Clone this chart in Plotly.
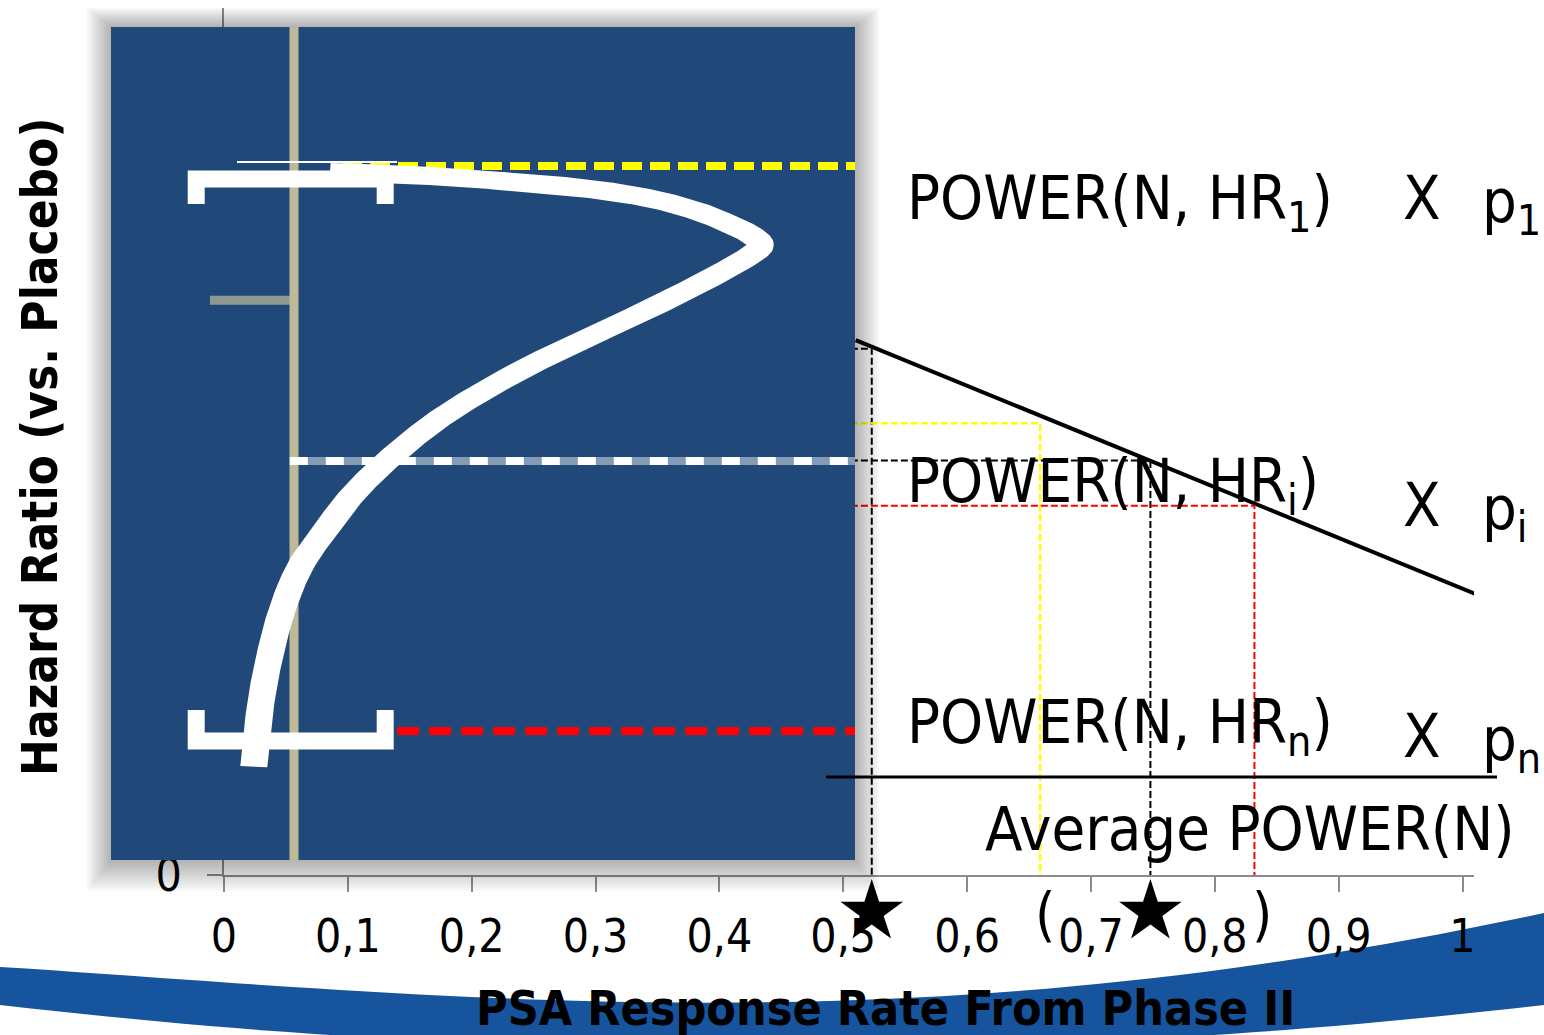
import numpy as np
import plotly.graph_objects as go

W, H = 1544, 1035
FONT = "DejaVu Sans Condensed, DejaVu Sans, sans-serif"

# ---------------------------------------------------------------- main chart
x_ticks = [0, 0.1, 0.2, 0.3, 0.4, 0.5, 0.6, 0.7, 0.8, 0.9, 1.0]
x_tick_labels = ["0", "0,1", "0,2", "0,3", "0,4", "0,5", "0,6", "0,7", "0,8", "0,9", "1"]

# hazard ratio as a function of the phase II PSA response rate
line_psa = [0.51, 1.0125]
line_hr = [0.617, 0.323]

# reading guides: hazard-ratio level -> PSA response rate
guide_level = [0.607, 0.521, 0.478, 0.426]
guide_rate = [0.523, 0.659, 0.748, 0.832]
guide_color = ["#000000", "#FFFF00", "#000000", "#FF0000"]
guide_width = [2, 2.5, 2, 2]

# response rates flagged on the axis
star_rate = [0.523, 0.748]

# ------------------------------------------------- inset: hazard ratio density
# density (horizontal) against hazard-ratio position (vertical)
dens = [0.060, 0.143, 0.255, 0.365, 0.477, 0.588, 0.672, 0.727, 0.763, 0.777,
        0.763, 0.698, 0.588, 0.477, 0.365, 0.255, 0.172, 0.102, 0.052, 0.010,
        -0.020, -0.042, -0.057, -0.067]
hr_pos = [0.826, 0.824, 0.820, 0.814, 0.807, 0.795, 0.779, 0.763, 0.750, 0.739,
          0.727, 0.700, 0.660, 0.623, 0.583, 0.536, 0.490, 0.442, 0.396, 0.352,
          0.300, 0.240, 0.180, 0.112]

# brackets at both ends of the distribution
cap_dens = [-0.163, -0.163, 0.152, 0.152]
cap_top = [0.7875, 0.8175, 0.8175, 0.7875]
cap_bottom = [0.180, 0.1429, 0.1429, 0.180]

# hazard-ratio levels marked inside the inset
inset_level = [0.833, 0.479, 0.155]
inset_start = [0.08, -0.007, 0.172]
inset_color = ["#FFFF00", "#FFFFFF", "#FF0000"]
inset_dash = ["20px,8px", "18px,18px", "22px,10px"]

beige_tick_level = 0.672
beige_tick_start = -0.14

# ------------------------------------------------------------------ geometry
def fx(px):
    return px / W


def fy(py):
    return 1 - py / H


# main axes: plot area in pixels
MX0, MX1, MY0, MY1 = 224, 1474, 875, 8
MAIN_UNIT_X = 1238.5
main_xrange = [0, (MX1 - MX0) / MAIN_UNIT_X]

# inset axes: origin (density 0, level 0) and pixels per unit
IO_X, IO_Y, ISX, ISY = 294, 860, 600.0, 833.0
PANEL = (111, 27, 855, 860)          # blue panel box, px
IDOM = (80, 0, 890, 900)              # inset subplot box incl. shadow, px
ins_xrange = [(IDOM[0] - IO_X) / ISX, (IDOM[2] - IO_X) / ISX]
ins_yrange = [(IO_Y - IDOM[3]) / ISY, (IO_Y - IDOM[1]) / ISY]


def to_d(px):
    return (np.asarray(px, float) - IO_X) / ISX


def to_h(py):
    return (IO_Y - np.asarray(py, float)) / ISY


def rect(x0, y0, x1, y1):
    xs = to_d([x0, x1, x1, x0, x0])
    ys = to_h([y0, y0, y1, y1, y0])
    return xs, ys


def catmull(px, py, n=16):
    p = np.column_stack([px, py])
    p = np.vstack([p[0], p, p[-1]])
    out = []
    for i in range(1, len(p) - 2):
        p0, p1, p2, p3 = p[i - 1], p[i], p[i + 1], p[i + 2]
        for t in np.linspace(0, 1, n, endpoint=False):
            t2, t3 = t * t, t * t * t
            out.append(0.5 * ((2 * p1) + (-p0 + p2) * t +
                              (2 * p0 - 5 * p1 + 4 * p2 - p3) * t2 +
                              (-p0 + 3 * p1 - 3 * p2 + p3) * t3))
    out.append(p[-2])
    return np.array(out)


# thick density stroke as a filled ribbon (elliptical pen)
cpx = IO_X + np.array(dens) * ISX
cpy = IO_Y - np.array(hr_pos) * ISY
c = catmull(cpx, cpy)
tan = np.gradient(c, axis=0)
nrm = np.column_stack([-tan[:, 1], tan[:, 0]])
nrm /= np.linalg.norm(nrm, axis=1)[:, None]
A, B = 13.5, 9.0
den = np.sqrt(A * A * nrm[:, 0] ** 2 + B * B * nrm[:, 1] ** 2)
off = np.column_stack([A * A * nrm[:, 0], B * B * nrm[:, 1]]) / den[:, None]
left, right = c + off, c - off
ribbon = np.vstack([left, right[::-1], left[:1]])

fig = go.Figure()

# ---- main chart traces
fig.add_trace(go.Scatter(x=line_psa, y=line_hr, mode="lines",
                         line=dict(color="black", width=4),
                         xaxis="x", yaxis="y", hoverinfo="skip"))
for lv, rt, col, wd in zip(guide_level, guide_rate, guide_color, guide_width):
    fig.add_trace(go.Scatter(x=[0.49, rt, rt], y=[lv, lv, 0], mode="lines",
                             line=dict(color=col, width=wd, dash="7px,3px"),
                             xaxis="x", yaxis="y", hoverinfo="skip"))

# ---- inset traces
for k in range(10, 0, -1):
    e = k * 2.4
    xs, ys = rect(PANEL[0] - e, PANEL[1] - e + k * 0.5,
                  PANEL[2] + e, PANEL[3] + e + k * 0.7)
    fig.add_trace(go.Scatter(x=xs, y=ys, mode="lines", fill="toself",
                             fillcolor="rgba(0,0,0,0.032)", line=dict(width=0),
                             xaxis="x2", yaxis="y2", hoverinfo="skip"))
xs, ys = rect(*PANEL)
fig.add_trace(go.Scatter(x=xs, y=ys, mode="lines", fill="toself",
                         fillcolor="#20497A", line=dict(width=0, color="#20497A"),
                         xaxis="x2", yaxis="y2", hoverinfo="skip"))
# inset axis and its tick
fig.add_trace(go.Scatter(x=[0, 0], y=to_h([PANEL[1], PANEL[3]]), mode="lines",
                         line=dict(color="#BEBA98", width=9),
                         xaxis="x2", yaxis="y2", hoverinfo="skip"))
fig.add_trace(go.Scatter(x=[beige_tick_start, 0], y=[beige_tick_level] * 2, mode="lines",
                         line=dict(color="rgba(190,186,152,0.7)", width=9),
                         xaxis="x2", yaxis="y2", hoverinfo="skip"))
# level lines
for lv, st, col, ds in zip(inset_level, inset_start, inset_color, inset_dash):
    if col == "#FFFFFF":
        fig.add_trace(go.Scatter(x=[st, to_d(PANEL[2])], y=[lv, lv], mode="lines",
                                 line=dict(color="rgba(255,255,255,0.45)", width=8),
                                 xaxis="x2", yaxis="y2", hoverinfo="skip"))
    fig.add_trace(go.Scatter(x=[st, to_d(PANEL[2])], y=[lv, lv], mode="lines",
                             line=dict(color=col, width=8, dash=ds),
                             xaxis="x2", yaxis="y2", hoverinfo="skip"))
# density curve
fig.add_trace(go.Scatter(x=to_d(ribbon[:, 0]), y=to_h(ribbon[:, 1]), mode="lines",
                         fill="toself", fillcolor="white",
                         line=dict(width=0, color="white"),
                         xaxis="x2", yaxis="y2", hoverinfo="skip"))
# thin top edge and the brackets
fig.add_trace(go.Scatter(x=to_d([237, 397]), y=to_h([162, 162]), mode="lines",
                         line=dict(color="white", width=2),
                         xaxis="x2", yaxis="y2", hoverinfo="skip"))
for ys_cap in (cap_top, cap_bottom):
    fig.add_trace(go.Scatter(x=cap_dens, y=ys_cap, mode="lines",
                             line=dict(color="white", width=17),
                             xaxis="x2", yaxis="y2", hoverinfo="skip"))

# ---- stars under the axis (own strip so they sit inside an axis range)
fig.add_trace(go.Scatter(x=star_rate, y=[0] * len(star_rate), mode="markers",
                         marker=dict(symbol="star", size=47, color="black",
                                     line=dict(width=0)),
                         cliponaxis=False, xaxis="x3", yaxis="y3", hoverinfo="skip"))

# ---- bottom swoosh
ux = np.array([0, 295, 591, 788, 900, 1064, 1228, 1393, 1544])
uy = np.array([967, 987, 1000, 1005, 998, 985, 968, 945, 912])
coef = np.polyfit(ux, uy, 4)
sx = np.linspace(0, W, 60)
up_y = np.polyval(coef, sx)
lo_y = 1005 + 7.49e-5 * sx * (W - sx)
pts = [(x, y) for x, y in zip(sx, up_y)] + [(x, y) for x, y in zip(sx[::-1], lo_y[::-1])]
path = "M " + " L ".join(f"{fx(x):.5f},{fy(y):.5f}" for x, y in pts) + " Z"

shapes = [
    dict(type="path", path=path, xref="paper", yref="paper",
         fillcolor="#16549E", line=dict(width=0), layer="below"),
    dict(type="line", xref="paper", yref="paper", x0=fx(826), x1=fx(1497),
         y0=fy(777), y1=fy(777), line=dict(color="black", width=3), layer="above"),
]

big = dict(family=FONT, size=61, color="black")
ann = []


def txt(s, x, y, xa="left", font=big, **kw):
    ann.append(dict(text=s, x=fx(x), y=fy(y), xref="paper", yref="paper",
                    xanchor=xa, yanchor="middle", showarrow=False, font=font, **kw))


txt("POWER(N, HR<sub>1</sub>)", 905, 202)
txt("X", 1422, 197, xa="center")
txt("p<sub>1</sub>", 1480, 205)
txt("POWER(N, HR<sub>i</sub>)", 905, 485)
txt("X", 1422, 504, xa="center")
txt("p<sub>i</sub>", 1480, 512)
txt("POWER(N, HR<sub>n</sub>)", 905, 726)
txt("X", 1422, 735, xa="center")
txt("p<sub>n</sub>", 1480, 743)
txt("Average POWER(N)", 983, 828)
paren = dict(family=FONT, size=58, color="black")
txt("(", 1045, 915, xa="center", font=paren)
txt(")", 1262, 915, xa="center", font=paren)
bold = dict(family=FONT, size=49, color="black", weight="bold")
txt("Hazard Ratio (vs. Placebo)", 40, 447, xa="center", font=bold, textangle=-90)
txt("PSA Response Rate From Phase II", 885, 1008, xa="center",
    font=dict(family=FONT, size=48, color="black", weight="bold"))

axis_gray = "#8C8C8C"
fig.update_layout(
    template="none",
    width=W, height=H, margin=dict(l=0, r=0, t=0, b=0, autoexpand=False),
    paper_bgcolor="white", plot_bgcolor="rgba(0,0,0,0)",
    showlegend=False, shapes=shapes, annotations=ann,
    xaxis=dict(domain=[fx(MX0), fx(MX1)], range=main_xrange, tickvals=x_ticks,
               ticktext=x_tick_labels, ticks="outside", ticklen=15, tickwidth=2,
               tickcolor=axis_gray, showline=True, linecolor=axis_gray, linewidth=2,
               showgrid=False, zeroline=False, ticklabelstandoff=5, automargin=False,
               tickfont=dict(family=FONT, size=46, color="black"), anchor="y"),
    yaxis=dict(domain=[fy(MY0), fy(MY1)], range=[0, 1], tickvals=[0], ticktext=["0"],
               ticks="outside", ticklen=15, tickwidth=2, tickcolor=axis_gray,
               showline=True, linecolor=axis_gray, linewidth=2, showgrid=False,
               zeroline=False, ticklabelstandoff=16, automargin=False,
               tickfont=dict(family=FONT, size=46, color="black"), anchor="x"),
    xaxis2=dict(domain=[fx(IDOM[0]), fx(IDOM[2])], range=ins_xrange, visible=False,
                anchor="y2", automargin=False),
    yaxis2=dict(domain=[fy(IDOM[3]), fy(IDOM[1])], range=ins_yrange, visible=False,
                anchor="x2", automargin=False),
    xaxis3=dict(domain=[fx(MX0), fx(MX1)], range=main_xrange, visible=False,
                anchor="y3", automargin=False),
    yaxis3=dict(domain=[fy(947), fy(877)], range=[-1, 1], visible=False,
                anchor="x3", automargin=False),
)

fig.write_html("out.html")
